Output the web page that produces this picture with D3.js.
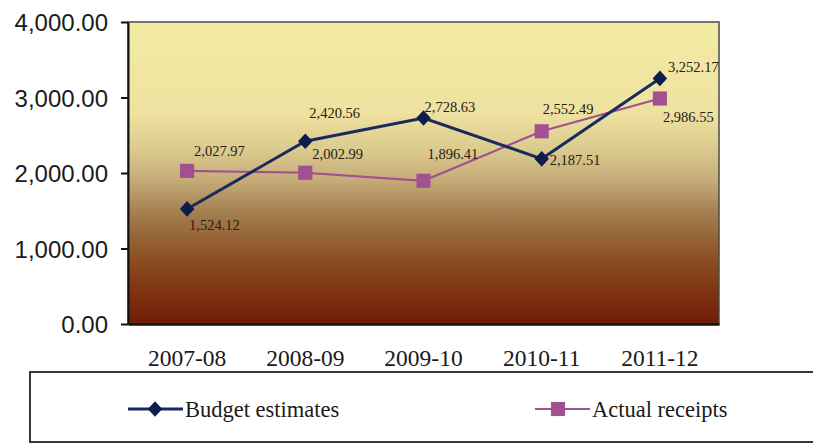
<!DOCTYPE html>
<html>
<head>
<meta charset="utf-8">
<script src="https://cdn.jsdelivr.net/npm/d3@7"></script>
<style>
  html, body { margin: 0; padding: 0; background: #fff; }
  svg { display: block; }
</style>
</head>
<body>
<svg id="chart" width="813" height="444"></svg>
<script>
// Fiscal years on the x axis
const years = ["2007-08", "2008-09", "2009-10", "2010-11", "2011-12"];
// Budget estimates per year
const budgetEstimates = [1524.12, 2420.56, 2728.63, 2187.51, 3252.17];
// Actual receipts per year
const actualReceipts = [2027.97, 2002.99, 1896.41, 2552.49, 2986.55];
// Y axis tick values
const yTicks = [0, 1000, 2000, 3000, 4000];
// Series names for the legend
const seriesNames = ["Budget estimates", "Actual receipts"];

// Label placement relative to each point (dx, dy)
const budgetLabelPos = [[2, 16], [4, -28], [1, -11], [8, 1], [8, -12]];
const actualLabelPos = [[7, -20], [7, -19], [4, -27], [1, -22], [3, 18]];

const svg = d3.select("#chart");
const m = { left: 128, right: 719, top: 22, bottom: 324 };

const x = d3.scaleBand().domain(years).range([m.left, m.right]).padding(0);
const y = d3.scaleLinear().domain([0, 4000]).range([m.bottom, m.top]);
const cx = d => x(d) + x.bandwidth() / 2;

// Plot background gradient: pale yellow at top fading to dark brown
const defs = svg.append("defs");
const grad = defs.append("linearGradient").attr("id", "bg")
  .attr("x1", 0).attr("y1", 0).attr("x2", 0).attr("y2", 1);
[
  [0, "#f3eba4"], [0.3, "#eee2a0"], [0.42, "#dccb8e"], [0.52, "#c6ad7a"],
  [0.64, "#a27c4c"], [0.78, "#8c5024"], [0.9, "#7e3210"], [1, "#701c06"]
].forEach(([o, c]) => grad.append("stop").attr("offset", o).attr("stop-color", c));

svg.append("rect")
  .attr("x", m.left).attr("y", m.top)
  .attr("width", m.right - m.left).attr("height", m.bottom - m.top)
  .attr("fill", "url(#bg)")
  .attr("stroke", "#4a4a4a").attr("stroke-width", 1.5);

// Y axis
const yAxis = svg.append("g").attr("transform", `translate(${m.left},0)`)
  .call(d3.axisLeft(y).tickValues(yTicks).tickSize(7).tickSizeOuter(0)
    .tickFormat(d3.format(",.2f")));
yAxis.select(".domain").attr("stroke", "#111").attr("stroke-width", 2);
yAxis.selectAll(".tick line").attr("stroke", "#111").attr("stroke-width", 2);
yAxis.selectAll(".tick text")
  .attr("x", -20).attr("dy", "0.36em")
  .attr("fill", "#1a1a1a")
  .style("font-family", "Arial, 'Liberation Sans', sans-serif")
  .style("font-size", "24px");

// X axis
const xAxis = svg.append("g").attr("transform", `translate(0,${m.bottom})`)
  .call(d3.axisBottom(x).tickSize(0).tickSizeOuter(0));
xAxis.select(".domain").attr("stroke", "#111").attr("stroke-width", 2.4);
xAxis.selectAll(".tick text")
  .attr("y", 0).attr("dy", "1.78em")
  .attr("fill", "#1a1a1a")
  .style("font-family", "'Liberation Serif', 'DejaVu Serif', serif")
  .style("font-size", "23.5px");

// Lines
const line = d3.line().x((d, i) => cx(years[i])).y(d => y(d));

svg.append("path").datum(actualReceipts)
  .attr("d", line).attr("fill", "none")
  .attr("stroke", "#a1518f").attr("stroke-width", 2.2);

svg.append("path").datum(budgetEstimates)
  .attr("d", line).attr("fill", "none")
  .attr("stroke", "#1b2a5e").attr("stroke-width", 3);

// Markers
const squareSym = d3.symbol().type(d3.symbolSquare).size(200);
const diamondSym = d3.symbol().type(d3.symbolDiamond2).size(135);

svg.append("g").selectAll("path").data(actualReceipts).join("path")
  .attr("d", squareSym)
  .attr("transform", (d, i) => `translate(${cx(years[i])},${y(d)})`)
  .attr("fill", "#a1518f");

svg.append("g").selectAll("path").data(budgetEstimates).join("path")
  .attr("d", diamondSym)
  .attr("transform", (d, i) => `translate(${cx(years[i])},${y(d)}) scale(1,1.08)`)
  .attr("fill", "#0f1c4e");

// Value labels
const fmt = d3.format(",.2f");
const labelStyle = sel => sel
  .attr("fill", "#262010")
  .style("font-family", "'Liberation Serif', 'DejaVu Serif', serif")
  .style("font-size", "14.5px");

svg.append("g").selectAll("text").data(budgetEstimates).join("text")
  .attr("x", (d, i) => cx(years[i]) + budgetLabelPos[i][0])
  .attr("y", (d, i) => y(d) + budgetLabelPos[i][1])
  .attr("dy", "0.35em")
  .text(d => fmt(d))
  .call(labelStyle);

svg.append("g").selectAll("text").data(actualReceipts).join("text")
  .attr("x", (d, i) => cx(years[i]) + actualLabelPos[i][0])
  .attr("y", (d, i) => y(d) + actualLabelPos[i][1])
  .attr("dy", "0.35em")
  .text(d => fmt(d))
  .call(labelStyle);

// Legend box
svg.append("rect")
  .attr("x", 30).attr("y", 372).attr("width", 800).attr("height", 70)
  .attr("fill", "#fff").attr("stroke", "#222").attr("stroke-width", 1.8);

const legendItems = [
  { name: seriesNames[0], x: 128, color: "#1b2a5e", sym: diamondSym, fill: "#0f1c4e", w: 3 },
  { name: seriesNames[1], x: 535, color: "#a1518f", sym: squareSym, fill: "#a1518f", w: 2.2 }
];
const leg = svg.append("g").selectAll("g").data(legendItems).join("g")
  .attr("transform", d => `translate(${d.x},409)`);
leg.append("line").attr("x1", 0).attr("x2", 55)
  .attr("stroke", d => d.color).attr("stroke-width", d => d.w);
leg.append("path").attr("d", d => d.sym())
  .attr("transform", d => d.sym === diamondSym ? "translate(27,0) scale(1,1.08)" : "translate(23,0)")
  .attr("fill", d => d.fill);
leg.append("text").attr("x", 57).attr("dy", "0.35em")
  .text(d => d.name)
  .attr("fill", "#1a1a1a")
  .style("font-family", "'Liberation Serif', 'DejaVu Serif', serif")
  .style("font-size", "22.5px");
</script>
</body>
</html>
